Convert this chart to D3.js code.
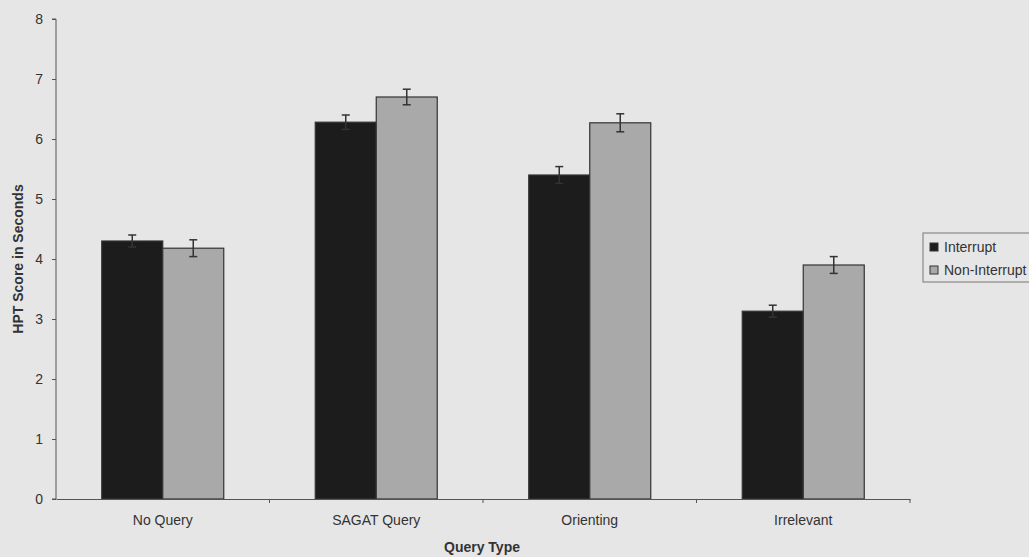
<!DOCTYPE html>
<html><head><meta charset="utf-8">
<script src="https://cdn.jsdelivr.net/npm/d3@7"></script>
<style>body{margin:0;background:#e6e6e6;} svg{display:block;}</style>
</head><body>
<svg id="c" width="1029" height="557"></svg>
<script>
const categories = ["No Query", "SAGAT Query", "Orienting", "Irrelevant"];
const seriesNames = ["Interrupt", "Non-Interrupt"];
const interruptValues = [4.30, 6.28, 5.40, 3.13];
const interruptErrors = [0.10, 0.12, 0.14, 0.10];
const nonInterruptValues = [4.18, 6.70, 6.27, 3.90];
const nonInterruptErrors = [0.14, 0.13, 0.15, 0.14];
const yTicks = [0, 1, 2, 3, 4, 5, 6, 7, 8];
const colors = ["#1c1c1c", "#a9a9a9"];

const svg = d3.select("#c");
svg.append("rect").attr("width", 1029).attr("height", 557).attr("fill", "#e6e6e6");
const mLeft = 56, mRight = 910, mTop = 19, mBottom = 499;
const x = d3.scaleBand().domain(categories).range([mLeft, mRight]).paddingInner(0).paddingOuter(0);
const x1 = d3.scaleBand().domain(seriesNames).range([0, 122]);
const y = d3.scaleLinear().domain([0, 8]).range([mBottom, mTop]);
const font = "Arial, 'Liberation Sans', sans-serif";
const fs = 14;

const series = [
  {name: seriesNames[0], vals: interruptValues, errs: interruptErrors},
  {name: seriesNames[1], vals: nonInterruptValues, errs: nonInterruptErrors}
];

series.forEach((s, si) => {
  const g = svg.append("g");
  categories.forEach((c, i) => {
    const bx = x(c) + (x.bandwidth() - 122) / 2 + x1(s.name);
    g.append("rect").attr("x", bx).attr("y", y(s.vals[i]))
      .attr("width", x1.bandwidth()).attr("height", y(0) - y(s.vals[i]))
      .attr("fill", colors[si]).attr("stroke", "#333").attr("stroke-width", 1.2);
    const cx = bx + x1.bandwidth() / 2;
    const e = g.append("g").attr("stroke", "#333").attr("stroke-width", 1.5);
    e.append("line").attr("x1", cx).attr("x2", cx).attr("y1", y(s.vals[i] + s.errs[i])).attr("y2", y(s.vals[i] - s.errs[i]));
    [1, -1].forEach(k => e.append("line").attr("x1", cx - 4).attr("x2", cx + 4)
      .attr("y1", y(s.vals[i] + k * s.errs[i])).attr("y2", y(s.vals[i] + k * s.errs[i])));
  });
});

// Y axis
const ya = svg.append("g").attr("transform", `translate(${mLeft},0)`)
  .call(d3.axisLeft(y).tickValues(yTicks).tickSize(4).tickPadding(9).tickFormat(d3.format("d")));
ya.select(".domain").attr("stroke", "#555").attr("d", `M-4,${mTop}H0V${mBottom}H-4`);
ya.selectAll(".tick line").attr("stroke", "#555");
ya.selectAll("text").attr("font-family", font).attr("font-size", fs).attr("fill", "#333");

// X axis
const xa = svg.append("g").attr("transform", `translate(0,${mBottom})`)
  .call(d3.axisBottom(x).tickSize(0).tickPadding(16));
xa.select(".domain").attr("stroke", "#555");
xa.selectAll("text").attr("font-family", font).attr("font-size", fs).attr("fill", "#333");
categories.slice(1).forEach(c => {
  svg.append("line").attr("x1", x(c)).attr("x2", x(c)).attr("y1", mBottom).attr("y2", mBottom + 4).attr("stroke", "#555");
});
svg.append("line").attr("x1", mRight).attr("x2", mRight).attr("y1", mBottom).attr("y2", mBottom + 4).attr("stroke", "#555");

svg.append("text").attr("x", 482).attr("y", 552).attr("text-anchor", "middle")
  .attr("font-family", font).attr("font-size", fs).attr("font-weight", "bold").attr("fill", "#333").text("Query Type");
svg.append("text").attr("transform", "translate(23,259) rotate(-90)").attr("text-anchor", "middle")
  .attr("font-family", font).attr("font-size", fs).attr("font-weight", "bold").attr("fill", "#333").text("HPT Score in Seconds");

// Legend
const lg = svg.append("g").attr("transform", "translate(923,233)");
lg.append("rect").attr("width", 120).attr("height", 49).attr("fill", "none").attr("stroke", "#777");
seriesNames.forEach((n, i) => {
  lg.append("rect").attr("x", 7).attr("y", 10 + i * 23).attr("width", 8).attr("height", 8)
    .attr("fill", colors[i]).attr("stroke", "#333");
  lg.append("text").attr("x", 21).attr("y", 19 + i * 23).attr("font-family", font).attr("font-size", fs)
    .attr("fill", "#333").text(n);
});
</script>
</body></html>
